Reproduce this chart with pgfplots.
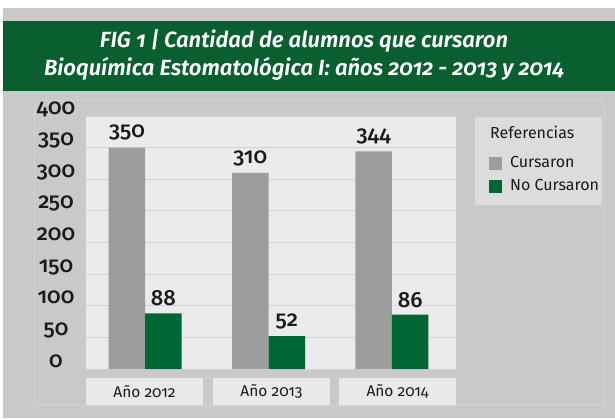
\documentclass[border=0pt]{standalone}
\usepackage{pgfplots}
\pgfplotsset{compat=1.18}
\usepackage{fontspec}
\setmainfont{Fira Sans}[Numbers=OldStyle, UprightFont=* Medium, ItalicFont=* SemiBold Italic]
\newfontfamily\regfont{Fira Sans}[Numbers=OldStyle]
\definecolor{outergray}{HTML}{C9C9C9}
\definecolor{panelline}{HTML}{D3D3D3}
\definecolor{bannergreen}{HTML}{0A5F30}
\definecolor{bargreen}{HTML}{006633}
\definecolor{bargray}{HTML}{9D9D9D}
\definecolor{plotbg}{HTML}{EBEBEB}
\definecolor{gridcol}{HTML}{D2D2D2}
\definecolor{labelbg}{HTML}{E9E9E9}
\definecolor{legendbg}{HTML}{DCDCDC}
\definecolor{txt}{HTML}{1A1A1A}
\begin{document}
\begin{tikzpicture}[x=1pt,y=1pt]
\path[use as bounding box] (0,0) rectangle (615,418);
\fill[white] (0,0) rectangle (615,418);
\fill[outergray] (3,0) rectangle (615,410);
\fill[bannergreen] (3,327) rectangle (615,397);
\draw[panelline, line width=0.6pt] (34,13) rectangle (604,318);
\node[white, font=\itshape\fontsize{22}{26}\selectfont, anchor=base] at (304,370) {FIG 1 | Cantidad de alumnos que cursaron};
\node[white, font=\itshape\fontsize{22}{26}\selectfont, anchor=base] at (304,342) {Bioquímica Estomatológica I: años 2012 - 2013 y 2014};
% legend box and title
\fill[legendbg] (475,213) rectangle (602,301);
\node[txt, font=\regfont\fontsize{16}{16}\selectfont, anchor=base west, inner sep=0pt] at (490,279) {Referencias};
\begin{axis}[
  at={(86pt,49pt)}, anchor=south west,
  scale only axis, width=370pt, height=253pt,
  ymin=0, ymax=400, xmin=-0.48, xmax=2.52,
  axis background/.style={fill=plotbg},
  axis line style={draw=none},
  major tick length=0pt,
  ytick={0,50,...,400},
  xtick={-0.0057,1.024,2.046},
  xticklabels={Año 2012, Año 2013, Año 2014},
  ymajorgrids, grid style={gridcol, line width=0.8pt},
  /pgf/number format/assume math mode=true,
  yticklabel style={anchor=base, xshift=-30pt, yshift=2pt, text=txt, font=\fontsize{22}{22}\selectfont},
  xticklabel style={anchor=north, yshift=-9pt, fill=labelbg, minimum width=117pt, minimum height=27pt, inner sep=0pt, text=txt, font=\regfont\fontsize{15.5}{15.5}\selectfont},
  ybar=0pt, bar width=36.5pt,
  nodes near coords,
  every node near coord/.append style={anchor=south, inner sep=0pt, yshift=7pt, text=txt, font=\fontsize{22}{22}\selectfont},
  legend style={at={(1.0892,0.840)}, anchor=north west, draw=none, fill=none, inner sep=0pt,
    row sep=8.5pt, column sep=8pt,
    nodes={inner sep=0pt, text height=11pt, text depth=3pt, text=txt, font=\regfont\fontsize{16}{16}\selectfont}},
  legend cell align=left,
  legend image code/.code={\fill[#1] (0pt,-6.5pt) rectangle (13pt,6.5pt);},
]
\addplot[fill=bargray, draw=none] coordinates {(0,350) (1,310) (2,344)};
\addlegendentry{Cursaron}
\addplot[fill=bargreen, draw=none] coordinates {(0,88) (1,52) (2,86)};
\addlegendentry{No Cursaron}
\end{axis}
\end{tikzpicture}
\end{document}
